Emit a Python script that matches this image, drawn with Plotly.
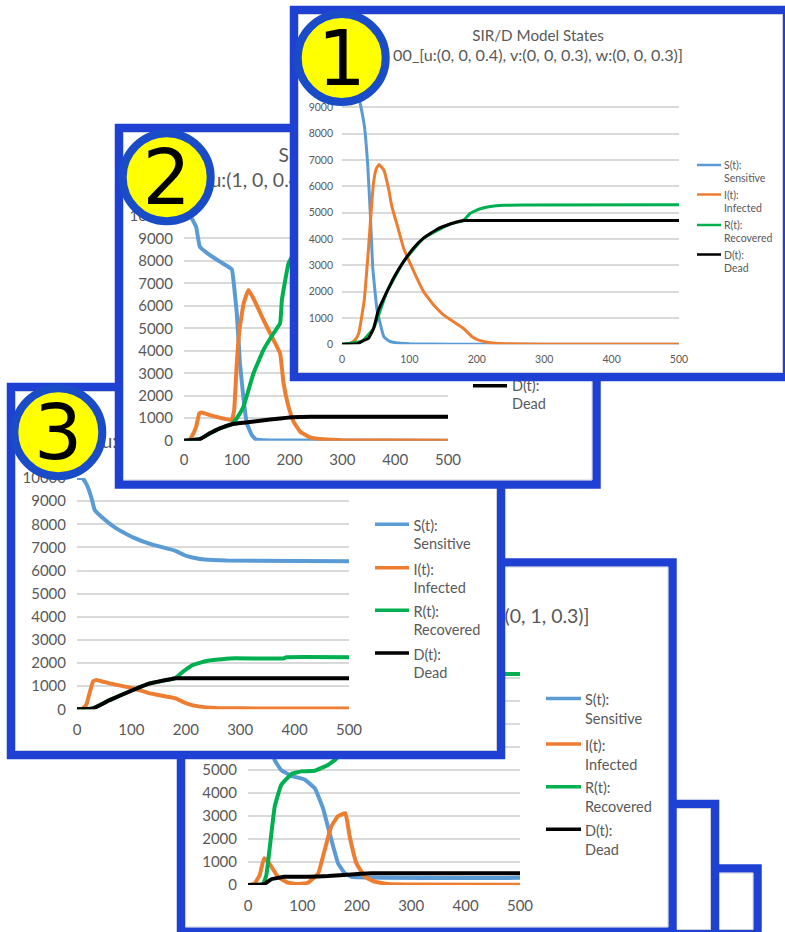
import plotly.graph_objects as go

# SIR/D simulation results for four parameter sets
p1_s_t = [0, 20, 27, 33, 38, 42, 45.5, 52, 62, 70, 80, 100, 130, 200, 500]
p1_s = [10000, 9950, 9150, 8330, 6870, 4970, 2950, 1300, 290, 120, 60, 20, 10, 0, 0]
p1_i_t = [0, 10, 15, 20, 25, 33, 39.5, 44.5, 47, 51, 55, 62, 69, 74, 82.5, 91.4, 101, 109, 121, 136, 151, 165.5, 180, 193, 205, 220, 240, 300, 500]
p1_i = [0, 30, 80, 180, 430, 1680, 3700, 5480, 6180, 6680, 6830, 6620, 5920, 5230, 4470, 3650, 3080, 2630, 2000, 1490, 1110, 860, 610, 290, 140, 60, 20, 5, 0]
p1_d_t = [0, 20, 25, 30, 39.5, 47, 54, 66.7, 79, 91.4, 106, 121, 141, 160.6, 178, 182, 186, 500]
p1_d = [0, 10, 40, 120, 230, 610, 1300, 2000, 2630, 3140, 3650, 4030, 4370, 4570, 4690, 4700, 4700, 4700]
p1_r_t = [0, 30, 47, 66.7, 91.4, 121, 160.6, 180, 190, 203, 220, 240, 270, 500]
p1_r = [0, 120, 610, 2000, 3140, 4030, 4570, 4690, 4970, 5130, 5230, 5280, 5290, 5300]

p2_s_t = [0, 8, 14.5, 23, 30, 49, 68, 90.5, 95, 100, 106, 113, 119, 128.5, 136, 150, 200, 500]
p2_s = [10000, 10000, 9900, 9520, 8630, 8260, 7970, 7630, 6850, 5670, 3440, 1810, 770, 250, 60, 20, 5, 0]
p2_i_t = [0, 10, 14.5, 23, 29, 33.5, 49, 68, 90.5, 95, 100, 105, 113, 122, 131.6, 150.6, 169.6, 182, 188.6, 198, 207.6, 220, 239, 264.6, 300, 500]
p2_i = [0, 30, 180, 620, 1220, 1260, 1140, 1020, 920, 1360, 3440, 4930, 6110, 6710, 6330, 5370, 4480, 3890, 2550, 1510, 850, 400, 150, 60, 20, 0]
p2_d_t = [0, 30, 49, 68, 90.5, 113, 144, 182, 204, 239, 250, 500]
p2_d = [0, 70, 330, 550, 730, 800, 890, 990, 1040, 1070, 1070, 1070]
p2_r_t = [0, 30, 49, 68, 90.5, 100, 112.6, 131.6, 150.6, 169.6, 182, 185.4, 198, 210, 230, 260, 500]
p2_r = [0, 70, 330, 550, 730, 1000, 1510, 3000, 4040, 4780, 5220, 6260, 7890, 8400, 8800, 8950, 8960]

p3_s_t = [0, 10, 18, 26, 32.5, 48, 72, 103, 134, 180, 201, 226, 250, 275, 500]
p3_s = [10000, 10000, 9700, 9190, 8620, 8260, 7820, 7430, 7150, 6860, 6630, 6500, 6455, 6430, 6400]
p3_i_t = [0, 10, 17, 23, 29.5, 35.6, 60, 103, 134, 180, 201, 226, 256.5, 300, 500]
p3_i = [0, 20, 190, 690, 1200, 1270, 1120, 910, 690, 480, 260, 115, 60, 40, 30]
p3_d_t = [0, 29.5, 60, 103, 134, 176, 182, 186, 500]
p3_d = [0, 40, 400, 835, 1120, 1325, 1340, 1340, 1340]
p3_r_t = [0, 29.5, 60, 103, 134, 180, 195, 213.5, 238, 281, 379, 385, 500]
p3_r = [0, 40, 400, 835, 1120, 1340, 1630, 1920, 2090, 2200, 2200, 2250, 2250]

p4_s_t = [0, 15, 25, 30, 40, 49, 61, 80, 104, 123, 138, 150, 165.6, 178, 190, 500]
p4_s = [10000, 9700, 9000, 8500, 6600, 5430, 5000, 4740, 4590, 4200, 3330, 2250, 940, 510, 360, 310]
p4_i_t = [0, 12, 21.5, 29.5, 37, 55, 73.6, 92, 110, 129, 141, 153, 165.6, 179, 187, 199.4, 215, 233, 258, 300, 500]
p4_i = [0, 70, 430, 1160, 1010, 360, 100, 40, 100, 500, 1520, 2540, 3000, 3120, 2100, 940, 360, 145, 40, 20, 10]
p4_d_t = [0, 30, 43, 67.5, 110, 147, 190, 227, 235, 500]
p4_d = [0, 40, 250, 360, 360, 390, 460, 510, 510, 510]
p4_r_t = [0, 27.6, 33.7, 43, 49, 61, 80, 98, 123, 147, 162.6, 180, 200, 230, 300, 500]
p4_r = [0, 40, 430, 2250, 3400, 4350, 4830, 4940, 4970, 5220, 5500, 6500, 8200, 9000, 9150, 9170]

series_labels = ["S(t):", "I(t):", "R(t):", "D(t):"]
series_names = ["Sensitive", "Infected", "Recovered", "Dead"]
series_colors = ["#5B9BD5", "#ED7D31", "#00B050", "#000000"]
x_ticks = [0, 100, 200, 300, 400, 500]
y_ticks = [0, 1000, 2000, 3000, 4000, 5000, 6000, 7000, 8000, 9000, 10000]

title_line_1 = "SIR/D Model States"
title_p1 = "00_[u:(0, 0, 0.4), v:(0, 0, 0.3), w:(0, 0, 0.3)]"
title_p2 = "00_[u:(1, 0, 0.4), v:(0, 0, 0.3), w:(0, 0, 0.3)]"
title_p3 = "00_[u:(0, 0, 0.4), v:(1, 0, 0.3), w:(0, 0, 0.3)]"
title_p4 = "00_[u:(0, 0, 0.4), v:(0, 0, 0.3), w:(0, 1, 0.3)]"

W, H = 785, 932
BLUE = "#1F41D3"
RING = "#1A4CC8"
GREY = "#595959"
FONT = "Lato"

fig = go.Figure()
layout = dict(
    width=W, height=H, margin=dict(l=0, r=0, t=0, b=0), showlegend=False,
    paper_bgcolor="white", plot_bgcolor="rgba(0,0,0,0)", font=dict(family=FONT, color=GREY),
)
shapes = []


def add_page_layer(idx):
    """A hidden full-page subplot; its shapes stack over every earlier subplot."""
    suffix = str(idx)
    common = dict(visible=False, fixedrange=True, domain=[0, 1], automargin=False)
    layout[f"xaxis{suffix}"] = dict(range=[0, W], anchor=f"y{suffix}", **common)
    layout[f"yaxis{suffix}"] = dict(range=[H, 0], anchor=f"x{suffix}", **common)
    return f"x{suffix}", f"y{suffix}"


def add_frame(xr, yr, x0, y0, x1, y1):
    shapes.append(dict(type="rect", xref=xr, yref=yr, layer="below", x0=x0, y0=y0, x1=x1, y1=y1,
                       fillcolor="white", line=dict(color=BLUE, width=8.5)))
    shapes.append(dict(type="rect", xref=xr, yref=yr, layer="below", x0=x0 + 4.5, y0=y0 + 4.5, x1=x1 - 4.5, y1=y1 - 4.5,
                       fillcolor="rgba(0,0,0,0)", line=dict(color="#CDD1DC", width=1)))


def add_text(xr, yr, xs, ys, texts, size, pos="middle right", color=GREY, family=FONT):
    fig.add_trace(go.Scatter(x=xs, y=ys, text=texts, mode="text", xaxis=xr, yaxis=yr, hoverinfo="skip",
                             textposition=pos, textfont=dict(size=size, color=color, family=family)))


def add_title(xr, yr, cx1, cx2, y1, y2, line_2, size_1, size_2):
    add_text(xr, yr, [cx1], [y1], [title_line_1], size_1, "middle center")
    add_text(xr, yr, [cx2], [y2], [line_2], size_2, "middle center")


def add_legend(xr, yr, line_x0, line_x1, text_x, rows, gap, size, width, shift):
    for label, name, color, y in zip(series_labels, series_names, series_colors, rows):
        fig.add_trace(go.Scatter(x=[line_x0, line_x1], y=[y, y], mode="lines", xaxis=xr, yaxis=yr, hoverinfo="skip",
                                 line=dict(color=color, width=width)))
        add_text(xr, yr, [text_x, text_x], [y + shift, y + shift + gap], [label, name], size)


def add_chart(idx, box, curves, width, tick_size, standoff, ypad):
    x0, x1, y_top, y_bot = box
    suffix = str(idx)
    grid = "#D9D9D9"
    layout[f"xaxis{suffix}"] = dict(
        domain=[x0 / W, x1 / W], range=[0, 500], anchor=f"y{suffix}", tickvals=x_ticks, showgrid=False,
        zeroline=False, showline=False, ticks="", tickfont=dict(size=tick_size, color=GREY, family=FONT),
        ticklabelstandoff=standoff, fixedrange=True, automargin=False, tickformat="d",
    )
    layout[f"yaxis{suffix}"] = dict(
        domain=[(H - y_bot) / H, (H - y_top) / H], range=[0, 10000], anchor=f"x{suffix}", tickvals=y_ticks,
        showgrid=True, gridcolor=grid, gridwidth=1.5, zeroline=False, showline=False, ticks="", tickformat="d",
        tickfont=dict(size=tick_size, color=GREY, family=FONT), ticklabelstandoff=ypad, fixedrange=True,
        automargin=False,
    )
    for (t, v), color in zip(curves, series_colors):
        fig.add_trace(go.Scatter(x=t, y=v, mode="lines", xaxis=f"x{suffix}", yaxis=f"y{suffix}", cliponaxis=False,
                                 line=dict(color=color, width=width, shape="spline", smoothing=0.3),
                                 hoverinfo="skip"))


# Rearmost layer: two partly covered frames and the chart labelled with w:(0, 1, 0.3)
xr, yr = add_page_layer(1)
add_frame(xr, yr, 300, 868.5, 757.5, 934)
add_frame(xr, yr, 300, 804, 715, 934)
add_frame(xr, yr, 181, 562.5, 672.5, 931.5)
add_title(xr, yr, 405, 415, 593, 618, title_p4, 19.3, 19.5)
add_legend(xr, yr, 546, 581, 585, [698.5, 744, 786.7, 829.3], 19, 14.5, 3.5, 3)
add_chart(2, (248, 520, 655, 885),
          [(p4_s_t, p4_s), (p4_i_t, p4_i), (p4_r_t, p4_r), (p4_d_t, p4_d)], 4, 15, 10, 10)

# Chart labelled with v:(1, 0, 0.3)
xr, yr = add_page_layer(3)
add_frame(xr, yr, 11, 387, 501, 755)
add_title(xr, yr, 253, 239, 418, 443, title_p3, 19.3, 19.5)
add_legend(xr, yr, 375, 409, 413.5, [524.3, 567.7, 610.3, 653], 18, 14.5, 3.5, 3.5)
add_chart(4, (77, 349, 478, 709.3),
          [(p3_s_t, p3_s), (p3_i_t, p3_i), (p3_r_t, p3_r), (p3_d_t, p3_d)], 4, 15, 10, 10)

# Chart labelled with u:(1, 0, 0.4)
xr, yr = add_page_layer(5)
add_frame(xr, yr, 119, 128, 596.5, 484.5)
add_title(xr, yr, 362, 348, 157, 182, title_p2, 19.3, 19.5)
add_legend(xr, yr, 473, 507, 512, [257, 300, 342.7, 385.7], 18, 14.5, 3.5, 2)
add_chart(6, (184, 448, 216, 440.7),
          [(p2_s_t, p2_s), (p2_i_t, p2_i), (p2_r_t, p2_r), (p2_d_t, p2_d)], 4, 15, 8, 10)

# Front chart with the baseline parameters
xr, yr = add_page_layer(7)
add_frame(xr, yr, 294, 10, 787, 377)
add_title(xr, yr, 538, 538, 37, 57, title_p1, 15.2, 16.2)
add_legend(xr, yr, 697, 721, 724, [165, 194.5, 225, 254.5], 13, 10.5, 2.5, 1.5)
add_chart(8, (342, 679, 81, 344.3),
          [(p1_s_t, p1_s), (p1_i_t, p1_i), (p1_r_t, p1_r), (p1_d_t, p1_d)], 3, 10.5, 7, 8)

# Numbered badges above everything else
xr, yr = add_page_layer(9)
badges = [("1", 341.7, 58), ("2", 166.7, 177.3), ("3", 58.3, 432.3)]
for digit, cx, cy in badges:
    shapes.append(dict(type="circle", xref=xr, yref=yr, layer="below", x0=cx - 44, x1=cx + 44, y0=cy - 44, y1=cy + 44,
                       fillcolor="#FFFF00", line=dict(color=RING, width=8)))
    add_text(xr, yr, [cx], [cy + 8], [digit], 76, "middle center", "#000000", "DejaVu Sans")

layout["shapes"] = shapes
fig.update_layout(**layout)
fig.write_html("out.html")
